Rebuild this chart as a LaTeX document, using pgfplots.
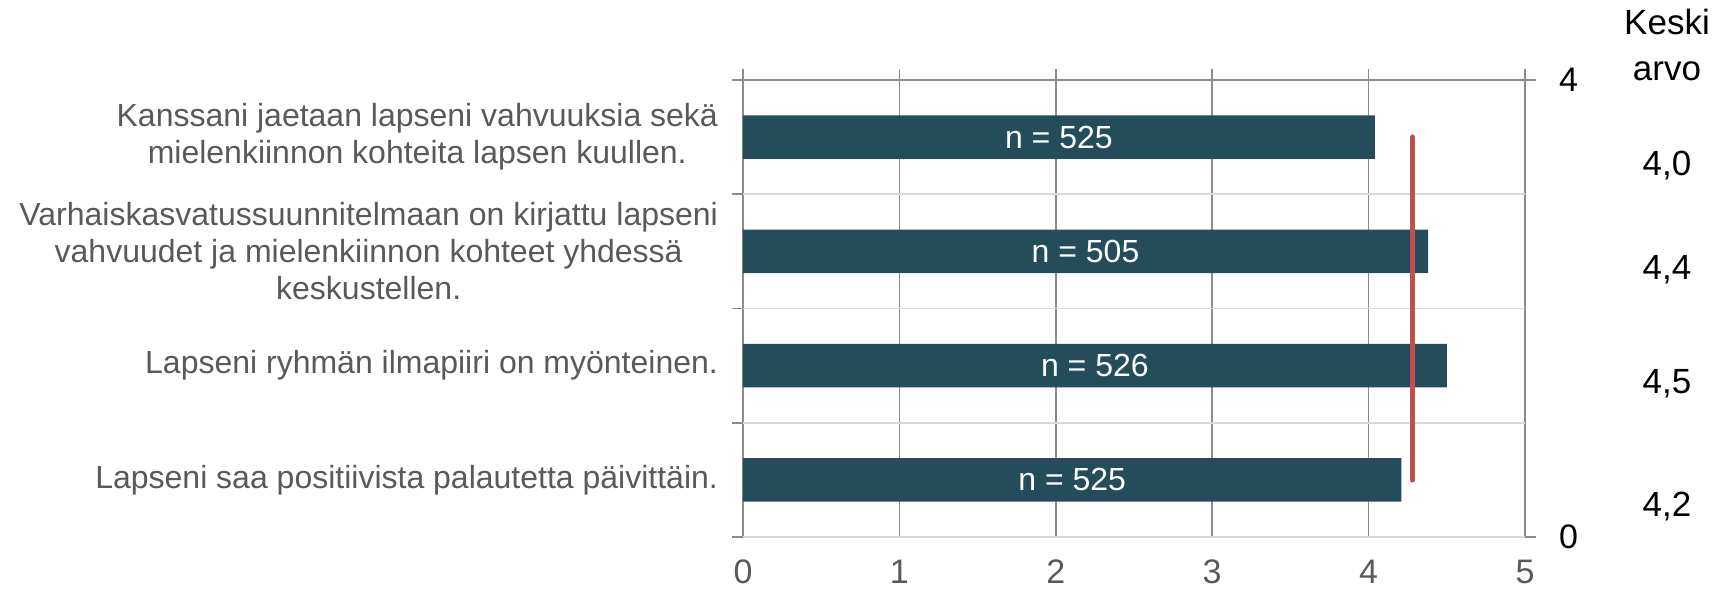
\documentclass[border=0pt]{standalone}
\usepackage{fontspec}
\setmainfont{Liberation Sans}
\usepackage{pgfplots}
\pgfplotsset{compat=1.18}
\definecolor{barcol}{HTML}{244C5A}
\definecolor{meanred}{HTML}{C0504D}
\definecolor{lbl}{HTML}{595959}
\definecolor{gridgray}{HTML}{8C8C8C}
\definecolor{gridlight}{HTML}{D9D9D9}
\newcommand{\fs}[1]{\fontsize{#1}{1.16\dimexpr#1pt\relax}\selectfont}

\begin{document}
\begin{tikzpicture}
\begin{axis}[
    name=ax,
    scale only axis,
    width=391pt, height=228.5pt,
    xmin=0, xmax=5, ymin=0, ymax=4,
    clip=false,
    axis line style={draw=none},
    xtick={0,...,5},
    xtick pos=right, xticklabel pos=left,
    ytick={0,...,4}, yticklabels={},
    ytick pos=left,
    tick align=outside,
    major tick length=5.5pt,
    tick style={gridgray, line width=0.8pt},
    xmajorgrids, ymajorgrids,
    x grid style={gridgray, line width=0.8pt},
    y grid style={gridlight, line width=0.8pt},
    /pgf/number format/assume math mode=true,
    xticklabel style={font=\fs{17}, text=lbl, yshift=-2.5pt},
    extra y ticks={0.5,1.5,2.5,3.5},
    extra y tick labels={
        {Lapseni saa positiivista palautetta päivittäin.},
        {Lapseni ryhmän ilmapiiri on myönteinen.},
        {Varhaiskasvatussuunnitelmaan on kirjattu lapseni\\vahvuudet ja mielenkiinnon kohteet yhdessä\\keskustellen.},
        {Kanssani jaetaan lapseni vahvuuksia sekä\\mielenkiinnon kohteita lapsen kuullen.}},
    extra y tick style={major tick length=0pt, ymajorgrids=false,
        yticklabel style={align=center, font=\fs{16}, text=lbl, xshift=-9pt}},
    bar width=0.38,
]
% bars
\addplot[xbar, fill=barcol, draw=none] coordinates {
    (4.21,0.5) (4.50,1.5) (4.38,2.5) (4.04,3.5)};
% n labels, centred in the bars
\addplot[draw=none, mark=none, nodes near coords, point meta=explicit symbolic,
    nodes near coords style={anchor=center, text=white, font=\fs{16}}]
    coordinates {(2.105,0.5) [n = 525] (2.25,1.5) [n = 526]
                 (2.19,2.5) [n = 505] (2.02,3.5) [n = 525]};
% mean line
\addplot[meanred, line width=2.7pt, line cap=round] coordinates {(4.28,0.5) (4.28,3.5)};
\draw[gridgray, line width=0.8pt] ([xshift=-5.5pt]axis cs:0,4) -- ([xshift=5.5pt]axis cs:5,4);
% mean values column
\node[font=\fs{17.5}] at ([xshift=71pt,yshift=29pt]rel axis cs:1,1) {Keski};
\node[font=\fs{17.5}] at ([xshift=71pt,yshift=4.5pt]rel axis cs:1,1) {arvo};
\node[font=\fs{17.5}] at ([xshift=71pt]axis cs:5,3.25) {4,0};
\node[font=\fs{17.5}] at ([xshift=71pt]axis cs:5,2.34) {4,4};
\node[font=\fs{17.5}] at ([xshift=71pt]axis cs:5,1.34) {4,5};
\node[font=\fs{17.5}] at ([xshift=71pt]axis cs:5,0.27) {4,2};
\coordinate (sw) at (rel axis cs:0,0);
\coordinate (ne) at (rel axis cs:1,1);
\end{axis}
\begin{axis}[
    scale only axis,
    width=391pt, height=228.5pt,
    xmin=0, xmax=5, ymin=0, ymax=4,
    hide x axis,
    axis y line*=right,
    y axis line style={draw=none},
    ytick={0,4},
    tick align=outside,
    major tick length=5.5pt,
    tick style={gridgray, line width=0.8pt},
    /pgf/number format/assume math mode=true,
    yticklabel style={font=\fs{17}, text=black, xshift=8pt},
]
\addplot[draw=none] coordinates {(0,0)};
\end{axis}
\pgfresetboundingbox
\path ([xshift=-371.5pt,yshift=-26.5pt]sw) rectangle ([xshift=94.5pt,yshift=40pt]ne);
\end{tikzpicture}
\end{document}
